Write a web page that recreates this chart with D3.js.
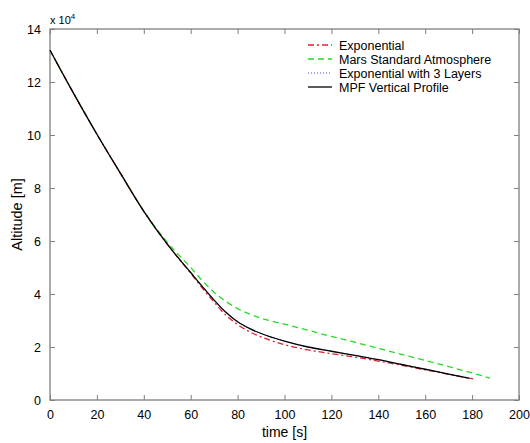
<!DOCTYPE html>
<html><head><meta charset="utf-8">
<script src="https://cdn.jsdelivr.net/npm/d3@7"></script>
<style>
body{margin:0;background:#fff;}
svg text{font-family:"Liberation Sans",Arial,sans-serif;fill:#000;}
</style></head>
<body><svg id="c" width="530" height="443"></svg>
<script>
// data (altitude in units of 1e4 m)
const xTicks = [0,20,40,60,80,100,120,140,160,180,200];
const yTicks = [0,2,4,6,8,10,12,14];
const seriesNames = ["Exponential","Mars Standard Atmosphere","Exponential with 3 Layers","MPF Vertical Profile"];

const tExp  = [0,10,20,30,40,50,60,65,70,75,80,85,90,100,110,120,130,140,150,160,170,180.4];
const vExp  = [13.2,11.58,10.03,8.56,7.12,5.88,4.78,4.22,3.69,3.2,2.85,2.58,2.38,2.09,1.89,1.75,1.62,1.47,1.31,1.14,0.97,0.80];

const tMars = [0,10,20,30,40,50,60,65,70,75,80,85,90,100,110,120,130,140,150,160,170,180,187.6];
const vMars = [13.2,11.58,10.03,8.56,7.13,5.95,5.0,4.5,4.06,3.72,3.45,3.25,3.09,2.86,2.63,2.40,2.18,1.95,1.72,1.49,1.26,1.02,0.83];

const tExp3 = [0,10,20,30,40,50,60,65,70,75,80,85,90,100,110,120,130,140,150,160,170,179];
const vExp3 = [13.2,11.58,10.03,8.56,7.12,5.88,4.81,4.28,3.77,3.31,2.95,2.70,2.51,2.22,2.0,1.84,1.68,1.52,1.34,1.16,0.98,0.82];

const tMpf  = [0,10,20,30,40,50,60,65,70,75,80,85,90,100,110,120,130,140,150,160,170,179];
const vMpf  = [13.2,11.58,10.03,8.56,7.12,5.88,4.81,4.28,3.77,3.31,2.95,2.70,2.51,2.22,2.0,1.84,1.68,1.52,1.34,1.16,0.98,0.82];

const svg = d3.select("#c");
const L=50,R=519,T=29,B=400;
const x = d3.scaleLinear().domain([0,200]).range([L,R]);
const y = d3.scaleLinear().domain([0,14]).range([B,T]);
const axisColor="#7f7f7f";

svg.append("rect").attr("x",L).attr("y",T).attr("width",R-L).attr("height",B-T)
  .attr("fill","none").attr("stroke",axisColor).attr("stroke-width",1.3);

function styleAxis(g){
  g.select(".domain").remove();
  g.selectAll(".tick line").attr("stroke",axisColor);
  g.selectAll(".tick text").attr("font-size","12.5px").attr("fill","#000")
   .attr("font-family","Liberation Sans, Arial, sans-serif");
}
svg.append("g").attr("transform",`translate(0,${B})`)
  .call(d3.axisBottom(x).tickValues(xTicks).tickSizeInner(-5).tickSizeOuter(0).tickPadding(10))
  .call(styleAxis);
svg.append("g").attr("transform",`translate(0,${T})`)
  .call(d3.axisTop(x).tickValues(xTicks).tickSizeInner(-5).tickSizeOuter(0).tickFormat(""))
  .call(styleAxis);
svg.append("g").attr("transform",`translate(${L},0)`)
  .call(d3.axisLeft(y).tickValues(yTicks).tickSizeInner(-5).tickSizeOuter(0).tickPadding(9))
  .call(styleAxis);
svg.append("g").attr("transform",`translate(${R},0)`)
  .call(d3.axisRight(y).tickValues(yTicks).tickSizeInner(-5).tickSizeOuter(0).tickFormat(""))
  .call(styleAxis);

const ex = svg.append("text").attr("x",L).attr("y",24).attr("font-size","11px");
ex.append("tspan").text("x 10");
ex.append("tspan").attr("dy",-5).attr("font-size","8px").text("4");

svg.append("text").attr("x",(L+R)/2).attr("y",437).attr("text-anchor","middle")
  .attr("font-size","14px").text("time [s]");
svg.append("text").attr("transform",`translate(22,${(T+B)/2}) rotate(-90)`)
  .attr("text-anchor","middle").attr("font-size","14.5px").text("Altitude  [m]");

const line = d3.line().x(d=>x(d[0])).y(d=>y(d[1])).curve(d3.curveMonotoneX);
const zip=(a,b)=>a.map((v,i)=>[v,b[i]]);
const styles = {
  exp:{color:"#e0202a",dash:"6,3,2,3",w:1.3},
  mars:{color:"#22dd22",dash:"6,4",w:1.3},
  exp3:{color:"#4444ee",dash:"1,2",w:1},
  mpf:{color:"#000",dash:null,w:1.3}
};
const series = [
  {t:tMars,v:vMars,s:styles.mars},
  {t:tExp,v:vExp,s:styles.exp},
  {t:tExp3,v:vExp3,s:styles.exp3},
  {t:tMpf,v:vMpf,s:styles.mpf}
];
series.forEach(d=>{
  svg.append("path").datum(zip(d.t,d.v)).attr("d",line).attr("fill","none")
    .attr("stroke",d.s.color).attr("stroke-width",d.s.w).attr("stroke-dasharray",d.s.dash);
});

const legStyles=[styles.exp,styles.mars,styles.exp3,styles.mpf];
seriesNames.forEach((n,i)=>{
  const yy=45+i*14;
  svg.append("line").attr("x1",308).attr("x2",332).attr("y1",yy).attr("y2",yy)
    .attr("stroke",legStyles[i].color).attr("stroke-width",legStyles[i].w)
    .attr("stroke-dasharray",legStyles[i].dash);
  svg.append("text").attr("x",339).attr("y",yy+4.5).attr("font-size","12.5px").text(n);
});
</script></body></html>
